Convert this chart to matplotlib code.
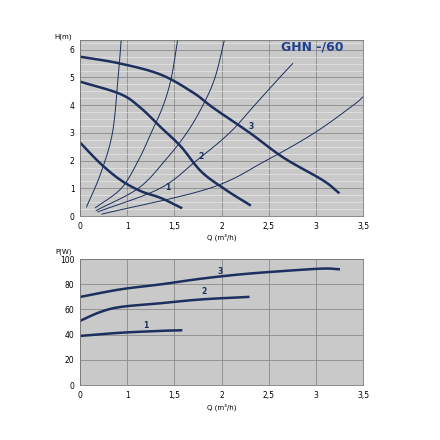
import matplotlib
matplotlib.use("Agg")
import matplotlib.pyplot as plt
import numpy as np

# pump curves (Q m3/h, H m)
q3 = [0, 0.857, 1.357, 1.70, 1.914, 2.30, 2.66, 3.07, 3.24]
h3 = [5.75, 5.5, 5.1, 4.45, 3.9, 3.0, 2.1, 1.3, 0.85]
q2 = [0, 0.857, 1.143, 1.357, 1.571, 1.786, 2.043, 2.30]
h2 = [4.85, 4.4, 3.9, 3.2, 2.5, 1.6, 0.95, 0.4]
q1 = [0, 0.429, 0.857, 1.143, 1.357, 1.571]
h1 = [2.65, 1.9, 1.3, 0.9, 0.65, 0.3]
# system curves
sys_q = [[0.137, 0.429, 0.686, 0.806, 0.874],
         [0.326, 0.874, 1.117, 1.254, 1.383, 1.468, 1.537],
         [0.343, 1.117, 1.40, 1.631, 1.803, 1.931, 2.034],
         [0.377, 1.348, 1.734, 2.085, 2.351, 2.617, 2.754],
         [0.463, 1.871, 2.471, 2.985, 3.397, 3.5]]
sys_h = [[0.33, 1.5, 3.0, 5.0, 6.4],
         [0.3, 1, 2, 3, 4, 5, 6.4],
         [0.2, 1, 2, 3, 4, 5, 6.4],
         [0.15, 1, 2, 3, 4, 5, 5.5],
         [0.07, 1, 2, 3, 4, 4.3]]
# power curves
pq3 = [0, 0.857, 1.357, 1.786, 2.214, 2.643, 3.071, 3.243]
p3 = [70, 76, 80, 84.5, 88, 90.5, 92.5, 92]
pq2 = [0, 0.429, 0.857, 1.357, 1.786, 2.283]
p2 = [51, 58, 62, 65, 68, 70]
pq1 = [0, 0.857, 1.357, 1.571]
p1 = [39, 41.5, 43, 43.5]
xticks = [0, 1, 1.5, 2, 2.5, 3, 3.5]
xlabels = ["0", "1", "1,5", "2", "2,5", "3", "3,5"]

navy = "#1c2f5e"
bg = "#c9c9c9"

def fwd(q):
    q = np.asarray(q, float)
    return np.where(q <= 1, q, 1 + 2 * (q - 1))

def inv(k):
    k = np.asarray(k, float)
    return np.where(k <= 1, k, 1 + (k - 1) / 2)

def smooth(x, y):
    # Catmull-Rom in display (scaled) space, mapped back to data
    x = fwd(x); y = np.asarray(y, float)
    P = np.column_stack([x, y])
    P = np.vstack([2*P[0]-P[1], P, 2*P[-1]-P[-2]])
    xs, ys = [], []
    for i in range(1, len(P)-2):
        p0, p1_, p2_, p3_ = P[i-1], P[i], P[i+1], P[i+2]
        for s in np.linspace(0, 1, 12, endpoint=False):
            pt = 0.5*((2*p1_) + (-p0+p2_)*s + (2*p0-5*p1_+4*p2_-p3_)*s**2 + (-p0+3*p1_-3*p2_+p3_)*s**3)
            xs.append(pt[0]); ys.append(pt[1])
    xs.append(x[-1]); ys.append(y[-1])
    return inv(np.array(xs)), ys

fig = plt.figure(figsize=(4.4, 4.4), dpi=100)
fig.patch.set_facecolor("white")

def style(ax, ymax, yminor):
    ax.set_facecolor(bg)
    ax.set_xscale("function", functions=(fwd, inv))
    ax.set_xlim(0, 3.5)
    ax.set_ylim(0, ymax)
    ax.set_xticks(xticks)
    ax.set_xticklabels(xlabels)
    ax.xaxis.set_minor_locator(matplotlib.ticker.NullLocator())
    ax.set_yticks(yminor, minor=True)
    ax.grid(True, which="major", color="#8a8a8a", lw=0.6)
    ax.grid(True, which="minor", axis="y", color="#e6e6e6", lw=0.5)
    ax.tick_params(labelsize=5.5, length=0, pad=4, which="both")
    for s in ax.spines.values():
        s.set_color("#777777"); s.set_linewidth(0.6)
    ax.set_axisbelow(True)

ax1 = fig.add_axes([0.182, 0.509, 0.643, 0.4])
style(ax1, 6.35, np.arange(0, 6.4, 0.25))
ax1.set_yticks(range(0, 7))
for sq, sh in zip(sys_q, sys_h):
    ax1.plot(*smooth(sq, sh), color=navy, lw=0.7)
for q, h in [(q1, h1), (q2, h2), (q3, h3)]:
    ax1.plot(*smooth(q, h), color=navy, lw=1.8)
ax1.text(1.40, 0.95, "1", fontsize=5.5, fontweight="bold", color=navy)
ax1.text(1.786, 2.05, "2", fontsize=5.5, fontweight="bold", color=navy, ha="center")
ax1.text(2.317, 3.15, "3", fontsize=5.5, fontweight="bold", color=navy, ha="center")
ax1.text(0.82, 0.96, "GHN -/60", transform=ax1.transAxes, fontsize=9, fontweight="bold",
         color="#1f3f8f", ha="center", va="center")
ax1.text(-0.03, 1.0, "H(m)", transform=ax1.transAxes, fontsize=5, ha="right", va="bottom")
ax1.set_xlabel("Q (m³/h)", fontsize=5, labelpad=2)

ax2 = fig.add_axes([0.182, 0.125, 0.643, 0.286])
style(ax2, 100, [])
ax2.set_yticks(range(0, 101, 20))
for q, p in [(pq1, p1), (pq2, p2), (pq3, p3)]:
    ax2.plot(*smooth(q, p), color=navy, lw=1.8)
ax2.text(1.169, 45, "1", fontsize=5.5, fontweight="bold", color=navy)
ax2.text(1.786, 72, "2", fontsize=5.5, fontweight="bold", color=navy)
ax2.text(1.957, 88, "3", fontsize=5.5, fontweight="bold", color=navy)
ax2.text(-0.03, 1.03, "P(W)", transform=ax2.transAxes, fontsize=5, ha="right", va="bottom")
ax2.set_xlabel("Q (m³/h)", fontsize=5, labelpad=3)

fig.savefig("out.png", dpi=100)
